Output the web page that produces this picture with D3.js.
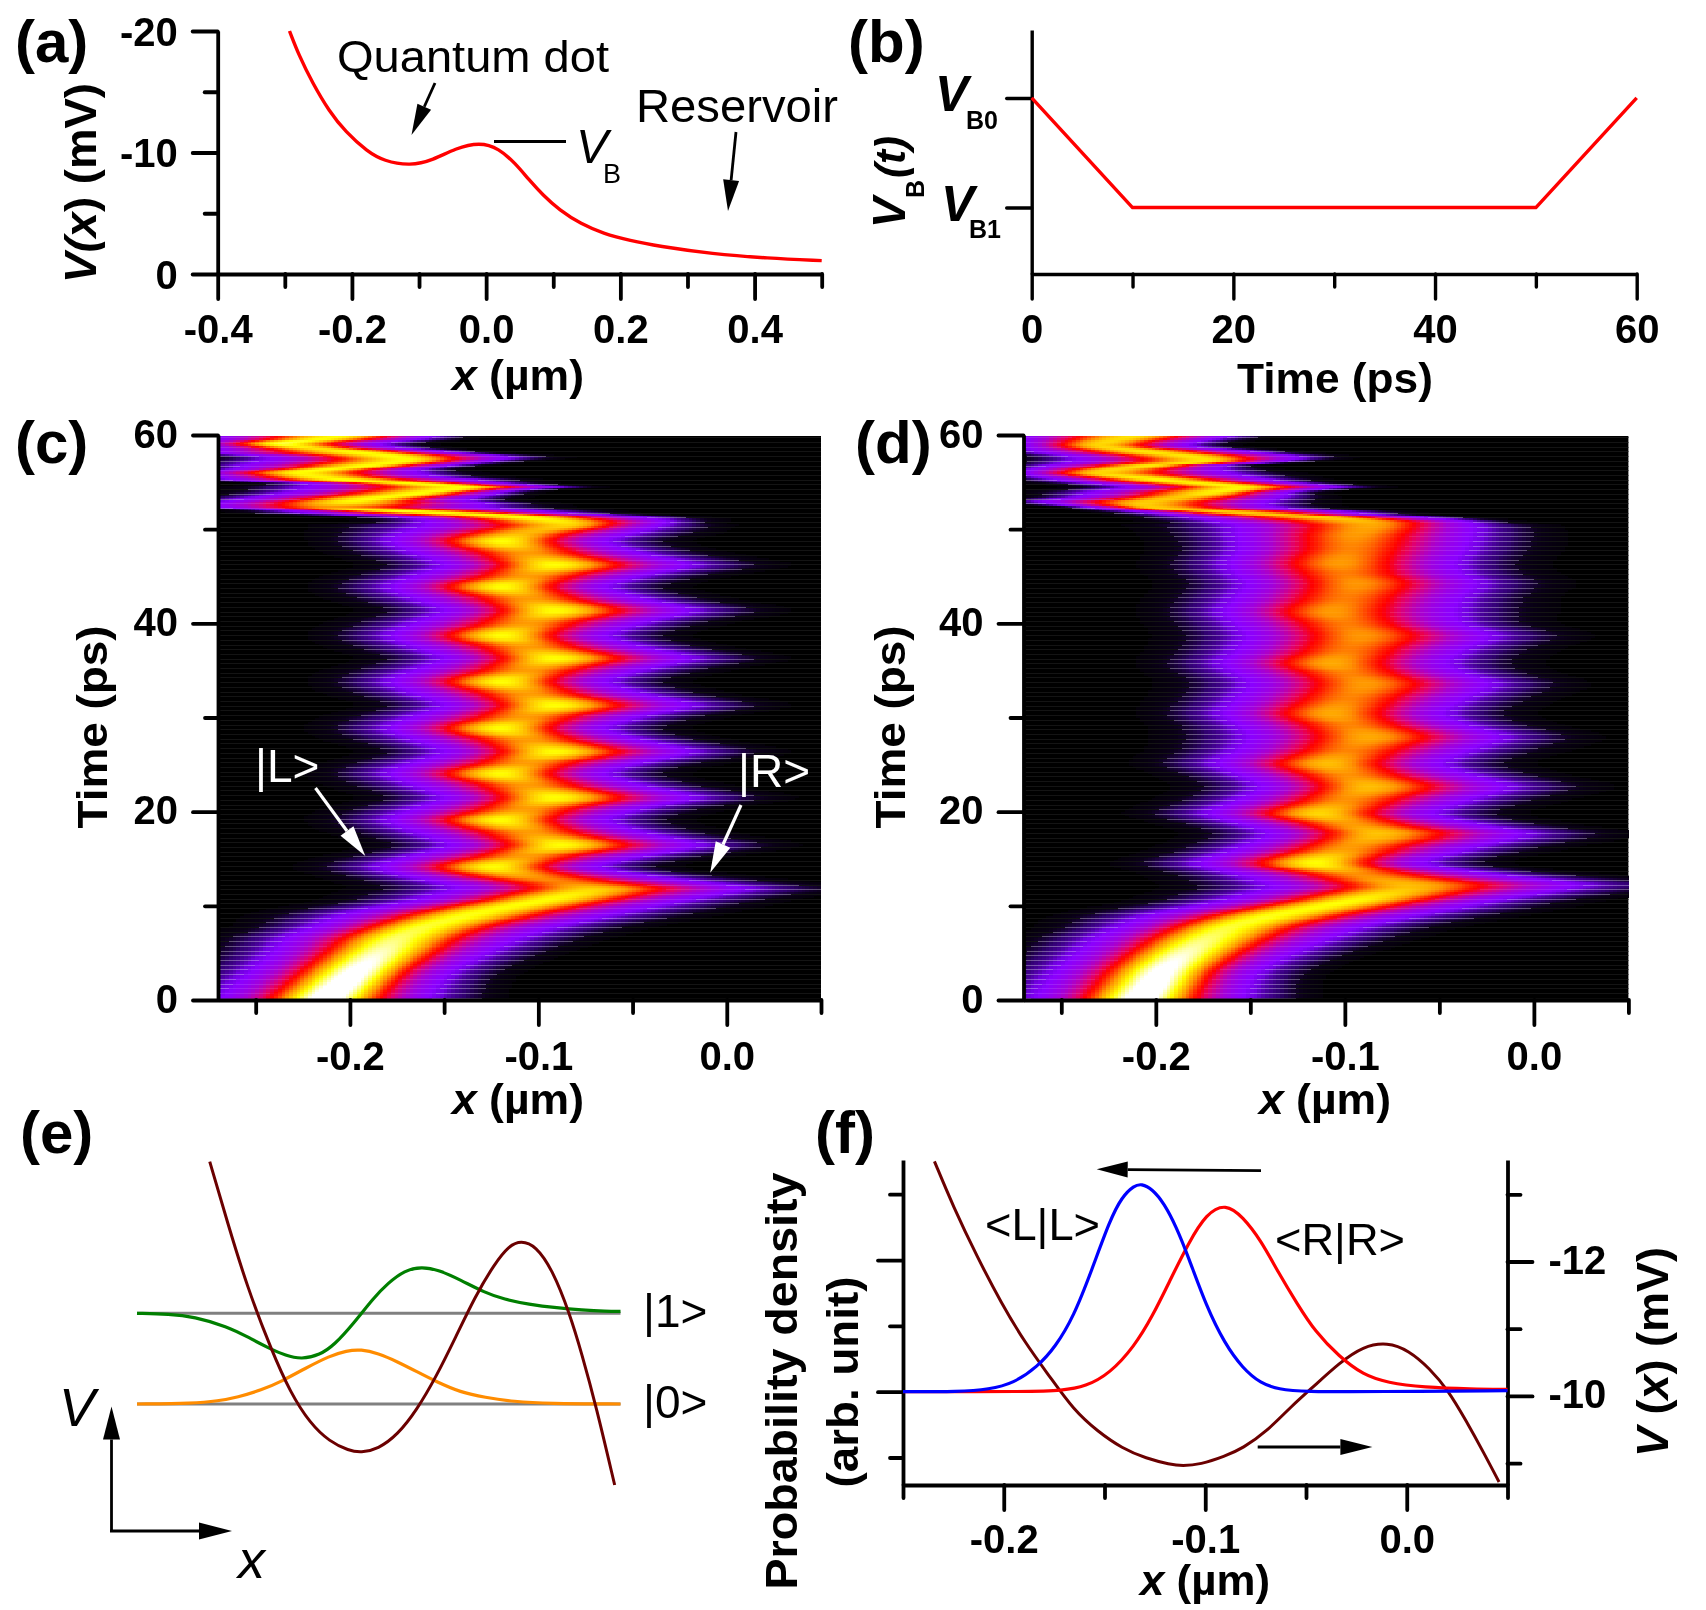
<!DOCTYPE html>
<html>
<head>
<meta charset="utf-8">
<script src="https://cdn.jsdelivr.net/npm/d3@7"></script>
<style>
  html, body { margin: 0; background: #fff; }
  #stage { position: relative; width: 1706px; height: 1610px; }
  #stage canvas, #stage svg { position: absolute; left: 0; top: 0; }
</style>
</head>
<body>
<div id="stage"></div>
<script>
// ---- (a) static potential profile ----
const potentialX = [-0.293,-0.279,-0.2585,-0.234,-0.2096,-0.177,-0.1525,-0.113,-0.079,-0.046,-0.0095,0.019,0.0436,0.064,0.0845,0.109,0.1417,0.174,0.215,0.2556,0.3375,0.419,0.5];
const potentialV = [-20,-18,-15.7,-13.4,-11.7,-10.07,-9.3,-8.9,-9.38,-10.34,-10.85,-10.34,-9.1,-7.74,-6.5,-5.27,-4.1,-3.35,-2.74,-2.3,-1.65,-1.3,-1.1];
const potentialXTicks = [-0.4,-0.2,0,0.2,0.4];
const potentialXTickLabels = ["-0.4","-0.2","0.0","0.2","0.4"];
const potentialXMinor = [-0.3,-0.1,0.1,0.3,0.5];
const potentialYTicks = [-20,-10,0];
const potentialYTickLabels = ["-20","-10","0"];
const potentialYMinor = [-15,-5];

// ---- (b) barrier pulse, 1 = V_B0 and 0 = V_B1 ----
const pulseTime = [0,10,50,60];
const pulseLevel = [1,0,0,1];
const pulseTimeTicks = [0,20,40,60];
const pulseTimeLabels = ["0","20","40","60"];
const pulseTimeMinor = [10,30,50];
const pulseLevelTicks = [0,1];

// ---- (c), (d) density maps, one row per line: time, ridge x, left width, right width, peak ----
const densityRowsC = [
  [0,-.2135,.019,.019,1.1],[1.6,-.204,.0195,.0175,1.08],[3.2,-.195,.0195,.0175,1.04],[5,-.184,.02,.02,.96],
  [6.7,-.173,.021,.023,.88],[7.8,-.16,.021,.025,.84],[8.85,-.141,.0235,.027,.82],[9.7,-.1215,.0245,.0277,.8],
  [10.45,-.1,.0245,.027,.8],[11.15,-.0847,.026,.028,.78],[11.85,-.0717,.027,.03,.7],[12.5,-.086,.026,.029,.56],
  [13.2,-.11,.023,.026,.62],[14.15,-.1237,.0215,.0205,.8],[15.3,-.107,.023,.024,.6],[16.45,-.088,.0215,.026,.8],
  [17.8,-.104,.023,.023,.6],[19.1,-.12,.021,.021,.8],[20.3,-.106,.023,.023,.6],[21.5,-.0912,.0215,.026,.8],
  [22.8,-.105,.023,.023,.6],[24.07,-.12,.021,.0205,.8],[25.2,-.106,.023,.023,.6],[26.37,-.0912,.0215,.0255,.8],
  [27.6,-.105,.023,.023,.6],[28.85,-.12,.021,.0205,.8],[30.1,-.106,.023,.023,.6],[31.3,-.0912,.0215,.0255,.8],
  [32.55,-.105,.023,.023,.6],[33.8,-.119,.021,.0205,.8],[35.05,-.105,.023,.023,.6],[36.3,-.0912,.0215,.0255,.8],
  [37.5,-.105,.023,.023,.6],[38.7,-.119,.021,.0205,.8],[40.05,-.105,.023,.023,.6],[41.4,-.0912,.0215,.0255,.8],
  [42.65,-.105,.023,.023,.6],[43.9,-.119,.021,.0205,.8],[45.05,-.105,.023,.023,.6],[46.2,-.0912,.0215,.0255,.8],
  [47.45,-.105,.023,.023,.6],[48.7,-.119,.021,.0205,.8],[49.6,-.108,.024,.022,.66],[50.44,-.0847,.028,.0185,.72],
  [51.15,-.102,.0225,.0225,.8],[51.68,-.1453,.0265,.0225,.8],[52.1,-.1886,.018,.029,.8],[52.32,-.208,.0225,.03,.6],
  [52.74,-.2016,.025,.026,.75],[53.09,-.195,.0233,.02,.8],[53.63,-.1713,.025,.016,.8],[54.1,-.152,.027,.0136,.8],
  [54.51,-.141,.029,.0176,.8],[54.87,-.167,.02,.0176,.8],[55.29,-.2038,.021,.024,.8],[55.64,-.219,.0187,.0225,.78],
  [56.1,-.2255,.0185,.0217,.8],[56.46,-.206,.0185,.016,.8],[56.81,-.1887,.024,.0152,.8],[57.27,-.171,.0265,.0168,.8],
  [57.7,-.1756,.024,.021,.8],[58.12,-.193,.028,.0176,.8],[58.58,-.219,.0187,.0176,.75],[59.11,-.2363,.0152,.0185,.85],
  [59.54,-.2168,.0195,.0185,.8],[60,-.199,.0257,.0168,.8]
];
const densityRowsD = [
  [0,-.2085,.019,.019,1.1],[1.6,-.2015,.0195,.0175,1.08],[3.2,-.195,.0195,.0175,1.04],[5,-.184,.02,.02,.96],
  [6.7,-.171,.021,.023,.88],[7.8,-.16,.021,.025,.84],[8.85,-.141,.0235,.027,.82],[9.7,-.119,.0245,.0277,.8],
  [10.45,-.098,.0245,.027,.8],[11.15,-.083,.026,.029,.75],[11.85,-.068,.027,.032,.68],[12.4,-.0698,.027,.034,.66],
  [13.4,-.095,.024,.028,.58],[14.5,-.115,.022,.0212,.8],[16.1,-.099,.022,.025,.6],[17.7,-.0827,.0218,.0286,.68],
  [18.75,-.098,.022,.025,.6],[19.8,-.113,.0214,.0227,.72],[21.2,-.1,.022,.025,.58],[22.65,-.087,.0218,.0269,.67],
  [23.9,-.098,.022,.025,.58],[25.1,-.1086,.0218,.0227,.67],[26.5,-.098,.023,.025,.56],[27.96,-.087,.0244,.0261,.63],
  [29.2,-.097,.023,.024,.56],[30.4,-.1065,.0218,.0227,.63],[32,-.098,.023,.024,.56],[33.6,-.0892,.0235,.0252,.6],
  [34.7,-.098,.023,.024,.56],[35.75,-.1065,.0218,.0235,.63],[37.2,-.098,.023,.024,.55],[38.7,-.0914,.0235,.0261,.59],
  [40,-.099,.023,.024,.55],[41.2,-.1065,.0218,.0252,.6],[42.7,-.099,.023,.024,.55],[44.25,-.0935,.0227,.0244,.59],
  [45.3,-.099,.023,.024,.55],[46.4,-.102,.0227,.0235,.6],[47.9,-.097,.023,.024,.56],[49.4,-.0935,.0244,.0235,.6],
  [50.62,-.087,.0277,.0204,.64],[51.15,-.1043,.0261,.0196,.7],[51.5,-.1367,.0204,.0196,.7],[51.96,-.169,.0163,.0236,.7],
  [52.32,-.2015,.0122,.0236,.7],[52.92,-.2037,.0204,.0228,.7],[53.45,-.184,.0204,.0187,.7],[53.98,-.167,.0236,.0139,.78],
  [54.51,-.1561,.0212,.0187,.78],[54.94,-.1799,.0204,.0187,.78],[55.4,-.2037,.0187,.0212,.78],[56,-.2296,.0147,.0245,.72],
  [56.81,-.2015,.0196,.0139,.75],[57.17,-.1756,.0245,.0147,.75],[57.7,-.1799,.0228,.0196,.75],[58.23,-.2058,.0204,.0196,.75],
  [58.93,-.2296,.0147,.0171,.72],[60,-.208,.0222,.0183,.75]
];
const mapXTicks = [-0.2,-0.1,0];
const mapXLabels = ["-0.2","-0.1","0.0"];
const mapXMinor = [-0.25,-0.15,-0.05,0.05];
const mapTimeTicks = [0,20,40,60];
const mapTimeLabels = ["0","20","40","60"];
const mapTimeMinor = [10,30,50];
const densityStops = [0,.003,.008,.022,.038,.12,.24,.36,.42,.58,.8,1];
const densityColors = ["#000000","#0a0018","#300070","#7000e0","#8a00ff","#a800d0","#e00070","#ff0000","#ff2000","#ff9000","#ffff00","#ffffff"];

// ---- (e) sketch of the dot states, arbitrary units with |0> at 0 ----
const sketchWellX = [43.3,47,51,56,60,64,68,72,74.5,78,82,86,90,94,98,102,105,107.5,110.5,114,117.5,120,123,126.8];
const sketchWellV = [72.7,54.2,35.2,16.2,3.2,-5.8,-11.3,-14,-14.6,-13.5,-9.3,-1.8,8.2,20,32.2,42,47.5,49,47.5,40.2,27.2,15.2,-0.8,-24.3];
const excitedX = [28.3,35,40,47,51,55.5,59,62.2,66,69,73,77,80,83.5,87,90.5,95,100,104,109,115,120,125,128];
const excitedV = [27.2,27,26.2,23.2,20.2,16.7,14.5,13.4,14.7,17.7,24.2,31.7,36.2,40.1,41.2,40.2,37.2,33.4,31.4,29.9,28.8,28.2,27.8,27.8];
const groundX = [28.3,40,45,49,54,58,63,68,71.5,74.5,78,82,86,90,95,100,106,113,128];
const groundV = [0,.2,.9,2,4.2,6.7,10.7,14.4,16,16.4,15.2,12.7,9.7,6.7,3.5,2,.7,.1,0];
const levelEnergies = [0,27.2];
const levelSpan = [28.3,128];

// ---- (f) left/right state densities and the well between them ----
const leftStateX = [-.25,-.2222,-.2072,-.1952,-.1832,-.1743,-.1653,-.1563,-.1473,-.1413,-.1353,-.1317,-.1263,-.1204,-.1144,-.1084,-.0994,-.0904,-.0814,-.0725,-.0635,-.0515,-.0156,.05];
const leftStateP = [0,0,.018,.063,.19,.342,.57,.924,1.304,1.481,1.565,1.58,1.54,1.43,1.253,1.025,.646,.367,.177,.063,.018,0,0,.008];
const rightStateX = [-.25,-.1862,-.1713,-.1593,-.1473,-.1353,-.1263,-.1174,-.1084,-.0994,-.0898,-.0814,-.0725,-.0635,-.0545,-.0455,-.0335,-.0216,-.0096,.0084,.0323,.05];
const rightStateP = [0,0,.008,.038,.139,.342,.57,.848,1.127,1.355,1.43,1.329,1.152,.899,.671,.456,.266,.127,.068,.033,.02,.018];
const wellX = [-.2344,-.2251,-.2132,-.2012,-.1892,-.1772,-.1653,-.1533,-.1413,-.1293,-.1174,-.1114,-.1024,-.0904,-.0814,-.0695,-.0575,-.0455,-.0335,-.0216,-.0096,.0009,.0114,.0204,.0293,.0383,.0458];
const wellV = [-13.49,-12.82,-12.07,-11.38,-10.78,-10.29,-9.79,-9.47,-9.22,-9.07,-8.98,-8.96,-8.98,-9.1,-9.22,-9.47,-9.84,-10.16,-10.49,-10.74,-10.8,-10.68,-10.41,-10.09,-9.64,-9.15,-8.72];
const stateXTicks = [-0.2,-0.1,0];
const stateXLabels = ["-0.2","-0.1","0.0"];
const stateXMinor = [-0.25,-0.15,-0.05,0.05];
const densityAxisTicks = [0,1];
const densityAxisMinor = [-0.5,0.5,1.5];
const wellAxisTicks = [-12,-10];
const wellAxisLabels = ["-12","-10"];
const wellAxisMinor = [-13,-11,-9];

const FONT = "'Liberation Sans', Arial, sans-serif";
const stage = d3.select("#stage");
const canvas = stage.append("canvas").attr("width",1706).attr("height",1610);
const ctx = canvas.node().getContext("2d");
ctx.fillStyle = "#fff"; ctx.fillRect(0,0,1706,1610);
const svg = stage.append("svg").attr("width",1706).attr("height",1610).attr("font-family",FONT);

// Text with optional italic runs; parts are [string, "i"|undefined].
function label(o){
  const t = svg.append("text")
    .attr("font-size",o.size).attr("font-weight",o.bold===false?"normal":"bold")
    .attr("text-anchor",o.anchor||"start").attr("fill",o.fill||"#000");
  if(o.rot) t.attr("transform",`translate(${o.x},${o.y}) rotate(${o.rot})`);
  else t.attr("x",o.x).attr("y",o.y);
  if(o.len) t.attr("textLength",o.len).attr("lengthAdjust","spacingAndGlyphs");
  (o.parts||[[o.text]]).forEach(p=>t.append("tspan").attr("font-style",p[1]==="i"?"italic":"normal").text(p[0]));
  return t;
}

// Line with a filled head at its end.
function arrow(x0,y0,x1,y1,color,sw,headLen,headWidth){
  const a = Math.atan2(y1-y0,x1-x0), ca=Math.cos(a), sa=Math.sin(a);
  const bx=x1-headLen*ca, by=y1-headLen*sa;
  svg.append("line").attr("x1",x0).attr("y1",y0).attr("x2",bx).attr("y2",by)
    .attr("stroke",color).attr("stroke-width",sw);
  svg.append("polygon").attr("fill",color)
    .attr("points",[[x1,y1],[bx-headWidth/2*sa,by+headWidth/2*ca],[bx+headWidth/2*sa,by-headWidth/2*ca]].join(" "));
}

// Axis with long labelled ticks and short minor ticks.
function axis(gen,scale,tx,ty,majors,minors,labels,pad,lw,dy){
  const w = lw||3.8;
  const g = svg.append("g").attr("transform",`translate(${tx},${ty})`);
  if(minors.length){
    const m = g.append("g").call(gen(scale).tickValues(minors).tickSize(13).tickSizeOuter(0).tickFormat(""));
    m.select(".domain").remove();
    m.selectAll("line").attr("stroke-width",w).attr("stroke-linecap","round");
  }
  const M = g.append("g").call(gen(scale).tickValues(majors).tickSize(25).tickSizeOuter(0).tickPadding(pad)
      .tickFormat((d,i)=>labels?labels[i]:""))
    .attr("font-family",FONT).attr("font-weight","bold").attr("font-size",40);
  M.select(".domain").attr("stroke-width",w);
  M.selectAll("line").attr("stroke-width",w).attr("stroke-linecap","round");
  if(gen!==d3.axisBottom) M.selectAll("text").attr("dy",dy||"0.3em");
}

function curve(xs,ys,sx,sy,color,sw,shape){
  svg.append("path").datum(xs.map((x,i)=>[x,ys[i]]))
    .attr("fill","none").attr("stroke",color).attr("stroke-width",sw).attr("stroke-linejoin","round")
    .attr("d",d3.line().x(d=>sx(d[0])).y(d=>sy(d[1])).curve(shape||d3.curveBasis));
}

// ==== (a) ====
const ax = d3.scaleLinear().domain([-0.4,0.5]).range([217.7,821.7]);
const ay = d3.scaleLinear().domain([0,-20]).range([274,31]);
axis(d3.axisBottom,ax,0,274,potentialXTicks,potentialXMinor,potentialXTickLabels,16);
axis(d3.axisLeft,ay,217.7,0,potentialYTicks,potentialYMinor,potentialYTickLabels,15,3.8,"0.36em");
curve(potentialX,potentialV,ax,ay,"#ff0000",3.4);
label({x:15,y:62,size:60,text:"(a)"});
label({x:96,y:183,size:44,rot:-90,anchor:"middle",len:200,parts:[["V(","i"],["x","i"],[")  (mV)"]]});
label({x:518,y:390,size:43,anchor:"middle",len:132,parts:[["x","i"],[" (µm)"]]});
label({x:337,y:72,size:45,bold:false,len:272,text:"Quantum dot"});
label({x:636,y:122,size:46,bold:false,len:202,text:"Reservoir"});
arrow(435,83,411.5,135,"#000",2.8,31,15);
arrow(736,132,728,211,"#000",2.8,31,16);
svg.append("line").attr("x1",494).attr("x2",566).attr("y1",141.5).attr("y2",141.5).attr("stroke","#000").attr("stroke-width",2.8);
label({x:576,y:163,size:48,bold:false,parts:[["V","i"]]});
label({x:603,y:183,size:27,bold:false,text:"B"});

// ==== (b) ====
const bx = d3.scaleLinear().domain([0,60]).range([1031.7,1636.7]);
const by = d3.scaleLinear().domain([-0.606,1.62]).range([274,30]);
axis(d3.axisBottom,bx,0,274,pulseTimeTicks,pulseTimeMinor,pulseTimeLabels,16,3.4);
axis(d3.axisLeft,by,1031.7,0,pulseLevelTicks,[],null,15,3.4);
curve(pulseTime,pulseLevel,bx,by,"#ff0000",3.4,d3.curveLinear);
label({x:848,y:62,size:60,text:"(b)"});
label({x:935,y:111,size:50,parts:[["V","i"]]});
label({x:966,y:129,size:25,text:"B0"});
label({x:941,y:221,size:50,parts:[["V","i"]]});
label({x:969,y:238,size:25,text:"B1"});
label({x:905,y:228,size:46,rot:-90,parts:[["V","i"]]});
label({x:924,y:198,size:25,rot:-90,text:"B"});
label({x:905,y:178,size:42,rot:-90,parts:[["(t)","i"]]});
label({x:1335,y:393,size:43,anchor:"middle",len:196,text:"Time (ps)"});

// ==== (c), (d) ====
const densityColor = d3.scaleLinear().domain(densityStops).range(densityColors).clamp(true);

// Values between table rows follow a cubic through the neighbouring rows.
function rowSampler(rows){
  const times = rows.map(r=>r[0]);
  const bis = d3.bisector(d=>d).right;
  const hermite = (k,i,u,h)=>{
    const slope = j=>{
      const a=Math.max(0,j-1), b=Math.min(rows.length-1,j+1);
      return (rows[b][k]-rows[a][k])/(times[b]-times[a]);
    };
    return (2*u*u*u-3*u*u+1)*rows[i][k]+(u*u*u-2*u*u+u)*h*slope(i)
          +(-2*u*u*u+3*u*u)*rows[i+1][k]+(u*u*u-u*u)*h*slope(i+1);
  };
  return t=>{
    const i=Math.min(rows.length-2,Math.max(0,bis(times,t)-1));
    const h=times[i+1]-times[i], u=(t-times[i])/h;
    const short=t>50.5;          // once the barrier is back up the packet rows have a tighter tail
    return {c:hermite(1,i,u,h),sL:hermite(2,i,u,h)*(short?1.1:1),sR:hermite(3,i,u,h)*(short?1.1:1),
            A:hermite(4,i,u,h),tail:short?0.02:0.08};
  };
}
const gauss = u=>Math.exp(-u*u/2);
function density(r,x){
  const d=x-r.c, u=Math.abs(d)/(d<0?r.sL:r.sR);
  return r.A*((1-r.tail)*gauss(u)+r.tail*gauss(u/1.75));
}

function densityMap(rows,left,right){
  const sx = d3.scaleLinear().domain([-0.27,0.05]).range([left,right]);
  const sy = d3.scaleLinear().domain([0,60]).range([1000,435]);
  const rowAt = rowSampler(rows);
  const cols = d3.range(-0.27,0.05,0.002);
  const top = 436, bottom = 998;
  ctx.fillStyle="#000"; ctx.fillRect(left,top,right-left,bottom-top);
  for(let y=top;y<bottom;y+=2){
    const r=rowAt(sy.invert(y+1));
    cols.forEach(x=>{
      const v=density(r,x+0.001);
      if(v<0.0012) return;
      ctx.fillStyle=densityColor(v);
      ctx.fillRect(Math.floor(sx(x)),y,Math.ceil(sx(x+0.002))-Math.floor(sx(x)),2);
    });
  }
  // Row seams of the time stepping: faint across the map, pale grey in the low-density fringe.
  d3.range(0.25,60,0.5).forEach(t=>{
    const y=Math.round(sy(t)), r=rowAt(t);
    ctx.fillStyle="#141414"; ctx.fillRect(left,y,right-left,1);
    cols.forEach(x=>{
      const v=density(r,x+0.001);
      if(v<0.004) return;
      const x0=Math.floor(sx(x)), w=Math.ceil(sx(x+0.002))-x0;
      ctx.fillStyle=densityColor(v);
      ctx.fillRect(x0,y,w,1);
      ctx.fillStyle=v>0.3?"rgba(255,255,255,0.04)":v>0.03?"rgba(255,255,255,0.12)":"rgba(255,255,255,0.32)";
      ctx.fillRect(x0,y,w,1);
    });
  });
  axis(d3.axisBottom,sx,0,1000,mapXTicks,mapXMinor,mapXLabels,17);
  axis(d3.axisLeft,sy,left,0,mapTimeTicks,mapTimeMinor,mapTimeLabels,15);
}
densityMap(densityRowsC,218,821);
densityMap(densityRowsD,1023.5,1628.4);

label({x:15,y:463,size:60,text:"(c)"});
label({x:855,y:463,size:60,text:"(d)"});
label({x:107,y:727,size:43,rot:-90,anchor:"middle",len:203,text:"Time (ps)"});
label({x:905,y:727,size:43,rot:-90,anchor:"middle",len:203,text:"Time (ps)"});
label({x:518,y:1114,size:43,anchor:"middle",len:132,parts:[["x","i"],[" (µm)"]]});
label({x:1325,y:1114,size:43,anchor:"middle",len:132,parts:[["x","i"],[" (µm)"]]});
label({x:255,y:782,size:46,bold:false,fill:"#fff",text:"|L>"});
label({x:738,y:787,size:46,bold:false,fill:"#fff",text:"|R>"});
arrow(315.5,788,365.3,856,"#fff",3.2,31,16);
arrow(741,805,710.2,872.7,"#fff",3.2,31,16);

// ==== (e) ====
const ex = d3.scaleLinear().domain([28.3,128]).range([137,620.5]);
const ey = d3.scaleLinear().domain([0,27.2]).range([1404,1313.3]);
levelEnergies.forEach(e=>svg.append("line").attr("x1",ex(levelSpan[0])).attr("x2",ex(levelSpan[1]))
  .attr("y1",ey(e)).attr("y2",ey(e)).attr("stroke","#808080").attr("stroke-width",3));
curve(excitedX,excitedV,ex,ey,"#007f00",3.2);
curve(groundX,groundV,ex,ey,"#ff8c00",3.2);
curve(sketchWellX,sketchWellV,ex,ey,"#6b0000",3);
label({x:20,y:1153,size:60,text:"(e)"});
label({x:59,y:1426,size:54,bold:false,parts:[["V","i"]]});
label({x:238,y:1578,size:54,bold:false,parts:[["x","i"]]});
label({x:643,y:1327,size:46,bold:false,text:"|1>"});
label({x:643,y:1418,size:46,bold:false,text:"|0>"});
arrow(111.5,1532,111.5,1406.5,"#000",2.8,33,17);
arrow(110,1531,232,1531,"#000",2.8,33,17);

// ==== (f) ====
const fx = d3.scaleLinear().domain([-0.25,0.05]).range([903,1507.5]);
const fp = d3.scaleLinear().domain([-0.709,1.76]).range([1485,1160]);
const fv = d3.scaleLinear().domain([-8.675,-13.51]).range([1485,1160]);
axis(d3.axisBottom,fx,0,1485,stateXTicks,stateXMinor,stateXLabels,15);
axis(d3.axisLeft,fp,903,0,densityAxisTicks,densityAxisMinor,null,15);
axis(d3.axisRight,fv,1507.5,0,wellAxisTicks,wellAxisMinor,wellAxisLabels,16);
curve(wellX,wellV,fx,fv,"#6b0000",3);
curve(rightStateX,rightStateP,fx,fp,"#ff0000",3.2);
curve(leftStateX,leftStateP,fx,fp,"#0000ff",3.2);
label({x:815,y:1153,size:60,text:"(f)"});
label({x:797,y:1381,size:44,rot:-90,anchor:"middle",len:417,text:"Probability density"});
label({x:858,y:1382,size:44,rot:-90,anchor:"middle",len:211,text:"(arb. unit)"});
label({x:1668,y:1352,size:44,rot:-90,anchor:"middle",len:210,parts:[["V","i"],[" ("],["x","i"],[")  (mV)"]]});
label({x:1205,y:1595,size:43,anchor:"middle",len:130,parts:[["x","i"],[" (µm)"]]});
label({x:985,y:1240,size:44,bold:false,len:115,text:"<L|L>"});
label({x:1275,y:1255,size:44,bold:false,len:130,text:"<R|R>"});
arrow(1261,1170.7,1096.7,1169.3,"#000",2.8,31,16);
arrow(1257.7,1447,1372.4,1447,"#000",2.8,32,16);
</script>
</body>
</html>
